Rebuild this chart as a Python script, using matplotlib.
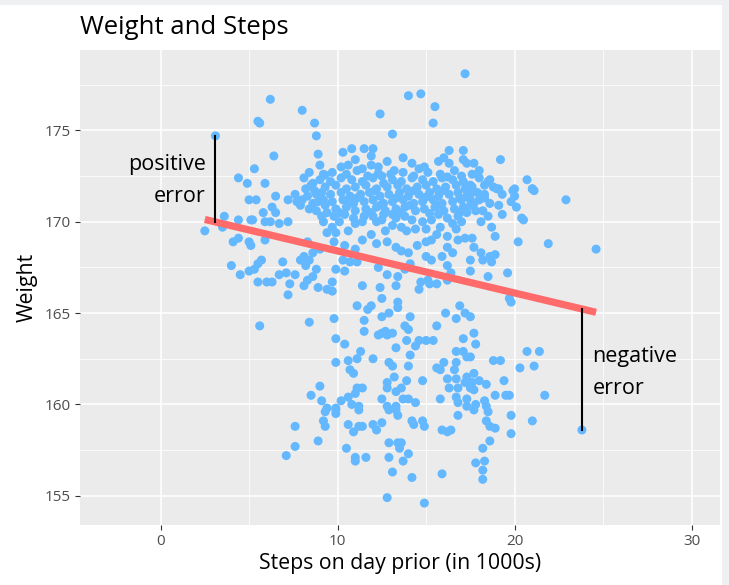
import matplotlib
matplotlib.use("Agg")
import matplotlib.pyplot as plt
from matplotlib.patches import Rectangle
from matplotlib.ticker import MultipleLocator

plt.rcParams["font.family"] = ["Open Sans", "DejaVu Sans"]

# steps on the day before (thousands) and weight measured next morning
steps = [
    17.2, 14.0, 14.7, 15.5, 12.4, 15.4, 13.1, 10.3, 10.8, 11.5, 12.0, 11.9, 16.3, 17.1,
    15.7, 16.3, 17.1, 17.3, 13.2, 14.6, 14.9, 10.2, 10.6, 11.4, 11.9, 12.3, 12.5,
    6.2, 8.0, 5.5, 5.6, 8.7, 3.1, 8.8, 6.4, 8.9, 5.3, 4.4, 4.9, 5.9, 9.0, 8.4, 8.1, 9.2, 8.5,
    19.2, 17.7, 18.0, 17.6, 18.5, 20.7, 20.0, 19.1, 21.0, 17.6,
    5.0, 5.4, 6.5, 7.2, 7.7, 5.8, 6.3, 6.5, 5.9, 6.2, 6.7, 7.2, 5.1, 5.2, 3.6, 4.4, 2.5,
    3.5, 4.1, 4.4, 5.0, 5.1, 5.9, 5.7, 5.5, 4.0, 4.5, 5.0, 5.3, 5.5, 6.0, 6.3, 6.9, 6.7,
    7.1, 7.6, 7.3, 7.2, 7.9, 8.1, 8.4, 8.2, 8.1, 8.3, 8.6, 8.8, 8.9, 9.4, 8.6, 9.0, 8.3,
    8.6, 8.9, 9.2, 8.8, 9.1, 8.4, 9.1, 9.4, 9.2, 9.4,
    13.1, 11.9, 11.4, 12.2, 12.8, 13.3, 13.6, 14.0, 14.5, 15.0, 15.3, 15.6, 16.2, 16.5,
    17.0, 16.8, 17.2, 16.2, 16.5, 15.0, 15.3, 15.9, 16.2, 16.4, 16.2, 15.6, 15.2, 14.7,
    15.1, 14.6, 14.1, 13.8, 13.4, 13.3, 12.8, 12.3, 12.4, 11.4, 11.1, 10.7, 10.3, 9.9,
    9.7, 10.4, 9.7, 10.6, 9.9, 9.7, 10.1, 11.0, 11.4, 9.8, 10.4, 11.0, 13.6, 13.9, 14.4,
    15.0, 15.8, 14.8, 15.3, 13.1, 12.5, 12.0, 12.2, 12.7, 14.2, 16.7,
    17.6, 18.3, 19.0, 19.9, 20.0, 19.8, 20.1, 21.0, 21.1, 22.9, 17.7, 17.5, 18.5, 18.1,
    18.7, 20.4, 20.5, 18.9, 17.6, 20.2, 21.9, 24.6, 17.7, 18.1, 18.2, 18.6, 18.9, 18.7,
    17.5, 17.5, 19.6, 18.5, 19.7,
    5.6, 8.4, 9.0, 8.5, 9.1, 9.4,
    9.8, 11.1, 11.7, 11.9, 12.5, 13.4, 13.4, 12.5, 12.9, 11.5, 14.1, 13.8, 14.0, 11.5,
    12.3, 12.7, 12.8, 12.5, 13.1, 9.9, 10.4, 13.9, 14.4, 14.6, 15.0, 15.4, 13.3, 14.1,
    11.3, 11.1, 10.6, 9.9, 10.7, 10.9, 12.0, 12.9, 13.1, 14.0, 13.2, 12.8, 12.8, 13.9,
    13.6, 13.3, 14.8, 13.7, 14.0, 14.4, 12.5, 12.8, 13.3, 11.1, 11.4, 11.0, 10.6, 10.8,
    11.2, 10.2, 9.9, 16.1, 16.7, 16.9, 17.2, 15.6, 17.1, 16.7, 17.1, 17.3, 16.0, 15.6,
    15.8, 16.7, 16.6, 16.2, 16.7, 16.3, 16.8, 17.3, 17.2, 15.8, 16.7, 16.8, 17.3, 17.3,
    19.8, 17.5, 17.7, 17.8, 17.5, 18.8, 19.2, 20.7, 21.4, 20.3, 21.1, 17.7, 18.0, 18.4,
    17.6, 17.5, 17.7, 19.4, 18.9, 19.5, 19.7, 21.7, 17.8, 18.3, 18.4,
    7.6, 9.3, 9.2, 9.3, 7.6, 8.9, 7.1,
    9.9, 9.9, 11.2, 10.6, 10.9, 11.2, 11.4, 12.0, 12.2, 12.5, 12.9, 13.3, 13.4, 14.2,
    14.3, 14.8, 14.9, 15.9, 16.2, 16.4, 16.8, 12.9, 13.4, 13.6, 13.5, 14.0, 10.5, 11.0,
    11.0, 11.6, 12.9, 13.7, 13.1, 14.2, 15.9, 12.8, 14.9,
    17.7, 18.5, 19.8, 21.0, 18.4, 18.6, 18.9, 19.8, 23.8, 18.6, 18.2, 17.8, 18.3, 18.2, 18.2,
    # crowded middle of the cloud
    9.7, 10.5, 11.1, 13.0, 13.7, 14.3, 15.1, 15.8, 16.6, 17.0,
    9.0, 9.6, 10.2, 10.8, 11.4, 12.0, 13.1, 13.6, 14.2, 14.8, 15.4, 15.9, 16.5, 17.1, 18.0, 18.6,
    8.2, 9.3, 9.9, 10.5, 11.0, 11.6, 12.2, 12.8, 13.4, 13.9, 14.5, 15.0, 15.6, 16.1, 16.7, 17.2, 18.8,
    7.6, 8.3, 9.6, 10.2, 10.7, 11.3, 11.8, 12.4, 12.9, 13.5, 14.0, 14.6, 15.2, 15.7, 16.3, 16.8, 17.3, 18.0,
    7.9, 8.0, 9.7, 10.3, 10.9, 11.5, 12.0, 12.6, 13.1, 13.7, 14.3, 14.8, 15.4, 15.9, 16.5, 17.0, 18.6, 19.1,
    8.8, 9.9, 10.5, 11.0, 11.6, 12.2, 12.7, 13.3, 13.8, 14.4, 14.9, 15.5, 16.0, 16.6, 17.1, 17.8,
    9.8, 10.4, 10.9, 11.5, 12.6, 13.3, 13.8, 15.7, 16.2, 16.8, 17.3, 19.3,
    11.0, 12.8, 13.7, 14.2, 16.0,
    9.3, 12.3, 16.2, 11.7, 8.6, 12.6, 17.5, 18.3,
    8.7, 12.1, 14.3, 16.0, 17.9, 19.3, 9.0, 11.1, 13.3, 15.0, 16.9, 18.3,
    9.3, 10.6, 12.4, 14.1, 15.7, 17.5, 10.1, 11.9, 13.6, 15.2, 16.9, 18.2,
]
weight = [
    178.1, 176.9, 177.0, 176.3, 175.9, 175.4, 174.8, 173.8, 174.0, 174.0, 174.0, 173.6, 173.9, 173.9,
    173.3, 173.2, 173.4, 173.2, 172.8, 172.9, 173.0, 173.0, 173.1, 172.9, 173.1, 173.0, 172.5,
    176.7, 176.1, 175.5, 175.4, 175.4, 174.7, 174.7, 173.6, 173.7, 172.9, 172.4, 172.1, 172.1, 173.1, 172.7, 172.4, 172.6, 172.0,
    173.4, 173.2, 172.8, 172.6, 172.2, 172.3, 171.8, 171.8, 171.8, 171.9,
    171.2, 171.2, 171.4, 171.2, 171.1, 170.5, 170.8, 170.5, 170.0, 170.0, 169.9, 170.0, 170.1, 170.1, 170.3, 170.1, 169.5,
    169.7, 168.9, 169.1, 168.9, 168.7, 169.0, 167.9, 167.7, 167.6, 167.1, 167.3, 167.4, 166.7, 166.7, 166.7, 167.8, 167.1,
    167.2, 167.1, 166.6, 166.0, 167.9, 168.1, 167.9, 167.6, 166.5, 166.8, 167.0, 167.4, 166.4, 166.3, 168.3, 168.5, 168.9,
    171.0, 171.1, 171.2, 171.5, 171.6, 170.7, 170.3, 170.5, 170.0, 169.4,
    169.8, 169.3, 169.0, 168.8, 168.9, 168.6, 168.4, 168.3, 168.7, 168.9, 169.0, 169.3, 169.2, 169.9,
    170.0, 169.0, 169.1, 168.6, 168.3, 168.1, 167.9, 168.1, 167.6, 167.2, 166.8, 166.6, 166.6, 166.7,
    166.8, 166.3, 167.7, 167.4, 167.0, 166.5, 167.1, 167.5, 166.4, 166.5, 167.8, 167.8, 167.9, 167.4,
    166.7, 167.3, 166.2, 169.5, 169.4, 169.7, 170.0, 169.9, 170.0, 168.9, 168.7, 168.5, 169.7, 169.5, 169.6,
    169.6, 169.7, 170.0, 170.1, 170.4, 170.1, 170.3, 170.0, 169.5, 170.1, 169.6,
    171.6, 171.5, 171.8, 171.7, 171.4, 171.1, 170.8, 171.8, 171.7, 171.2, 171.0, 171.2, 170.3, 170.0,
    169.7, 170.2, 170.1, 169.2, 169.1, 168.9, 168.8, 168.5, 168.6, 168.3, 167.9, 168.1, 168.2, 167.8,
    167.9, 167.3, 167.2, 167.0, 165.8,
    164.3, 164.5, 161.0, 160.5, 160.2, 159.8,
    164.7, 165.4, 165.2, 165.4, 165.8, 165.6, 165.3, 164.8, 165.0, 164.6, 164.8, 164.3, 164.1, 164.0,
    163.8, 164.0, 163.8, 163.9, 163.9, 163.6, 163.3, 163.5, 163.2, 163.5, 163.5, 163.5, 163.1, 162.7,
    162.9, 162.5, 162.4, 162.3, 161.9, 161.7, 162.5, 162.3, 162.1, 162.1, 161.5, 161.2, 160.9, 161.3,
    160.9, 160.7, 161.3, 160.3, 160.3, 160.1, 160.3, 159.9, 159.9, 160.9, 160.9, 160.6, 160.4, 160.0,
    159.9, 160.2, 159.8, 165.0, 164.7, 165.4, 165.0, 164.3, 163.6, 162.9, 162.9, 162.6, 162.3, 162.0,
    161.9, 162.3, 161.9, 161.4, 161.4, 160.9, 160.9, 161.5, 161.2, 160.3, 160.4, 160.1, 160.3, 159.9,
    165.6, 164.8, 163.9, 163.3, 162.6, 162.4, 162.4, 162.9, 162.9, 162.0, 162.1, 161.7, 161.3, 161.1,
    161.2, 160.9, 160.8, 161.3, 160.5, 160.5, 160.5, 160.5, 160.0, 160.2, 159.9,
    158.8, 159.6, 159.1, 158.8, 157.7, 158.0, 157.2,
    159.5, 159.7, 159.7, 158.9, 158.5, 158.8, 158.8, 158.9, 158.6, 159.0, 159.7, 159.7, 159.4, 159.1,
    158.9, 159.1, 158.8, 158.6, 158.5, 158.6, 159.4, 157.9, 157.9, 157.9, 157.6, 157.3, 157.6, 157.1,
    156.9, 157.1, 157.1, 156.9, 156.3, 156.0, 156.2, 154.9, 154.6,
    159.7, 159.6, 159.4, 159.1, 159.1, 158.8, 158.7, 158.4, 158.6, 158.0, 157.6, 156.8, 156.9, 156.4, 155.9,
    # crowded middle of the cloud
    172.7, 172.6, 172.8, 172.6, 172.7, 172.5, 172.7, 172.6, 172.8, 172.5,
    172.3, 172.2, 172.4, 172.3, 172.2, 172.4, 172.3, 172.2, 172.4, 172.3, 172.2, 172.4, 172.3, 172.2, 172.4, 172.3,
    171.8, 171.9, 172.0, 171.8, 171.9, 172.0, 171.8, 171.9, 172.0, 171.8, 171.9, 172.0, 171.8, 171.9, 172.0, 171.8, 171.9,
    171.5, 171.4, 171.5, 171.6, 171.4, 171.5, 171.6, 171.4, 171.5, 171.6, 171.4, 171.5, 171.6, 171.4, 171.5, 171.6, 171.4, 171.2,
    170.9, 171.2, 171.1, 171.2, 171.0, 171.1, 171.2, 171.0, 171.1, 171.2, 171.0, 171.1, 171.2, 171.0, 171.1, 171.2, 171.0, 170.9,
    170.6, 170.7, 170.8, 170.6, 170.7, 170.8, 170.6, 170.7, 170.8, 170.6, 170.7, 170.8, 170.6, 170.7, 170.8, 170.6,
    170.3, 170.4, 170.2, 170.3, 170.4, 170.2, 170.3, 170.4, 170.2, 170.3, 170.5, 170.4,
    173.4, 173.3, 173.5, 173.2, 173.5,
    172.55, 172.65, 172.45, 172.5, 172.1, 172.1, 172.0, 172.0,
    171.7, 171.7, 171.7, 171.7, 171.6, 171.5, 171.3, 171.3, 171.3, 171.35, 171.3, 171.3,
    170.9, 170.95, 170.9, 170.9, 170.9, 170.9, 170.5, 170.5, 170.5, 170.45, 170.5, 170.6,
]

# least-squares line: weight = intercept + slope * steps
fit_intercept = 170.7
fit_slope = -0.23

# the two residuals called out on the chart
pos_x, pos_y = 3.1, 174.7
neg_x, neg_y = 23.8, 158.6

POINT_COLOR = "#63B8FF"
LINE_COLOR = "#FF6B6B"

fig = plt.figure(figsize=(7.29, 5.85), dpi=100, facecolor="#EEF0F1")
fig.patches.append(Rectangle((0, 0), 722 / 729, 580 / 585, transform=fig.transFigure,
                             facecolor="white", edgecolor="none", zorder=-1))
ax = fig.add_axes([80 / 729, 60 / 585, 640 / 729, 475 / 585])
ax.set_facecolor("#EBEBEB")

ax.scatter(steps, weight, s=42, color=POINT_COLOR, edgecolors="none", zorder=3)

x0, x1 = min(steps), max(steps)
ax.plot([x0, x1], [fit_intercept + fit_slope * x0, fit_intercept + fit_slope * x1],
        color=LINE_COLOR, linewidth=5.2, solid_capstyle="butt", zorder=4)

for x, y in [(pos_x, pos_y), (neg_x, neg_y)]:
    ax.plot([x, x], [y, fit_intercept + fit_slope * x], color="black", linewidth=1.5, zorder=5)

ax.text(2.55, 172.25, "positive\nerror", ha="right", va="center", fontsize=15.5,
        linespacing=1.7, zorder=6)
ax.text(24.4, 161.75, "negative\nerror", ha="left", va="center", fontsize=15.5,
        linespacing=1.7, zorder=6)

ax.set_xlim(-4.55, 31.6)
ax.set_ylim(153.4, 179.4)
ax.xaxis.set_major_locator(MultipleLocator(10))
ax.xaxis.set_minor_locator(MultipleLocator(5))
ax.yaxis.set_major_locator(MultipleLocator(5))
ax.yaxis.set_minor_locator(MultipleLocator(2.5))
ax.grid(which="major", color="white", linewidth=1.1)
ax.grid(which="minor", color="white", linewidth=0.55)
ax.set_axisbelow(True)
for s in ax.spines.values():
    s.set_visible(False)
ax.tick_params(which="major", length=3.5, width=0.8, color="#333333",
               labelsize=11, labelcolor="#4D4D4D", pad=3)
ax.tick_params(which="minor", length=0)

ax.set_xlabel("Steps on day prior (in 1000s)", fontsize=15.3, labelpad=3)
ax.set_ylabel("Weight", fontsize=15.3, labelpad=5)
fig.text(80 / 729, 1 - 28 / 585, "Weight and Steps", fontsize=18.5, ha="left", va="center")

fig.savefig("out.png", dpi=100, facecolor=fig.get_facecolor())
